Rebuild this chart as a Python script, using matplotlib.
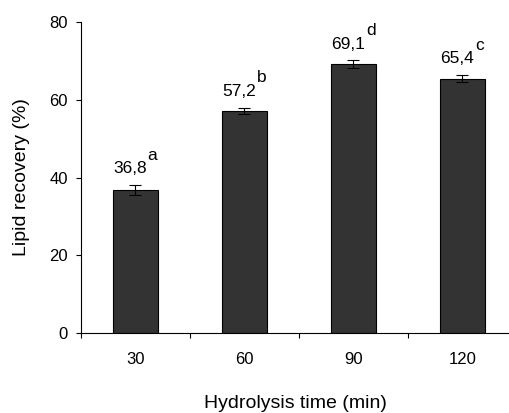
import matplotlib
matplotlib.use("Agg")
import matplotlib.pyplot as plt
import numpy as np

# hydrolysis time categories and lipid recovery values
times = ["30", "60", "90", "120"]
recovery = [36.8, 57.2, 69.1, 65.4]
errors = [1.3, 0.8, 1.0, 0.9]
value_labels = ["36,8", "57,2", "69,1", "65,4"]
letters = ["a", "b", "d", "c"]

plt.rcParams['font.family'] = ['Liberation Sans', 'DejaVu Sans']
plt.rcParams['font.size'] = 12

fig = plt.figure(figsize=(5.10, 4.13), dpi=100)
ax = fig.add_axes([81/510, 80/413, 429/510, 311/413])

x = np.arange(len(times))
ax.bar(x, recovery, width=0.41, color='#333333', edgecolor='black', linewidth=0.8,
       yerr=errors, error_kw=dict(ecolor='black', elinewidth=0.8, capsize=4.3, capthick=0.8))

for xi, val, err, lab, let in zip(x, recovery, errors, value_labels, letters):
    t = ax.annotate(lab, xy=(xi, val + err), xytext=(-4, 8.5), textcoords='offset points',
                    ha='center', va='baseline', fontsize=12.5)
    # superscript letter placed right after the value text
    ax.annotate(let, xy=(1, 0), xycoords=t, xytext=(0.7, 11.8), textcoords='offset points',
                ha='left', va='baseline', fontsize=12.5)

ax.set_ylim(0, 80)
ax.set_yticks([0, 20, 40, 60, 80])
ax.set_xlim(-0.5, 3.436)
ax.set_xticks(x)
ax.set_xticklabels(times)
ax.set_xticks([-0.5, 0.5, 1.5, 2.5], minor=True)
ax.tick_params(axis='x', which='major', length=0, pad=14, labelsize=12)
ax.tick_params(axis='x', which='minor', length=3.6, width=0.8, direction='out')
ax.tick_params(axis='y', length=3.6, width=0.8, pad=6, labelsize=12)

for s in ['top', 'right']:
    ax.spines[s].set_visible(False)
for s in ['left', 'bottom']:
    ax.spines[s].set_linewidth(0.8)

ax.set_xlabel("Hydrolysis time (min)", fontsize=14)
ax.xaxis.set_label_coords(0.5, -0.2)
ax.set_ylabel("Lipid recovery (%)", fontsize=14)
ax.yaxis.set_label_coords(-0.12, 0.5)

fig.savefig("out.png", dpi=100)
